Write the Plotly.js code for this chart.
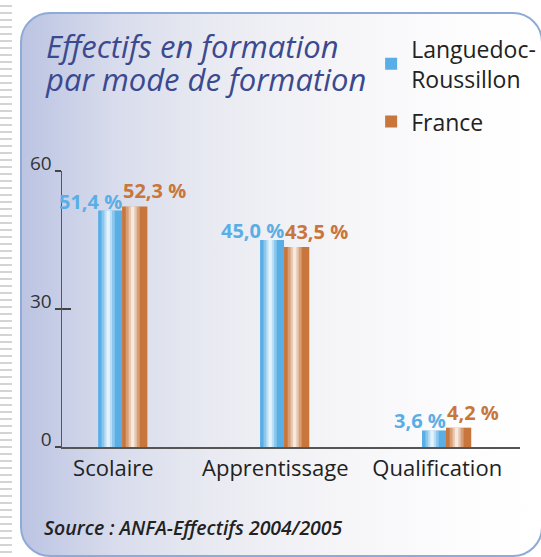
<!DOCTYPE html>
<html>
<head>
<meta charset="utf-8">
<script src="https://cdn.plot.ly/plotly-3.0.1.min.js"></script>
<style>
  html, body { margin:0; padding:0; background:#ffffff; width:541px; height:557px; overflow:hidden; }
  #paper { position:absolute; left:0; top:0; width:12px; height:557px;
    background: repeating-linear-gradient(to bottom, #ffffff 0px, #ffffff 5px, #d4d4d4 5px, #d4d4d4 7px); }
  #panel { position:absolute; left:20px; top:12px; width:523px; height:545px; box-sizing:border-box;
    border:2px solid #8eaad8; border-radius:30px;
    background: linear-gradient(to right, #bcc4e2 0%, #d8dcec 18%, #eaebf2 38%, #f5f5f8 60%, #fdfdfe 85%, #ffffff 100%); }
  #chart { position:absolute; left:0; top:0; width:541px; height:557px; }
</style>
</head>
<body>
<div id="paper"></div>
<div id="panel"></div>
<div id="chart"></div>
<script>
// ---- data ----
const categories = ['Scolaire', 'Apprentissage', 'Qualification'];
const seriesNames = ['Languedoc-<br>Roussillon', 'France'];
const languedocValues = [51.4, 45.0, 3.6];
const franceValues = [52.3, 43.5, 4.2];
const yTickValues = [0, 30, 60];
const titleLine1 = 'Effectifs en formation';
const titleLine2 = 'par mode de formation';
const sourceText = 'Source : ANFA-Effectifs 2004/2005';

// ---- styles ----
const BLUE = '#5aaee6', ORANGE = '#c8763c', TITLE = '#3b4a8f';
const FONT = 'Open Sans, Noto Sans, sans-serif';
const shift = 0.054;
const W_BLUE = 0.148, W_OR = 0.156;
const OFF_BLUE = shift - W_BLUE, OFF_OR = shift;

function fmt(v){ return v.toFixed(1).replace('.', ',') + ' %'; }

function highlightTraces(vals, off, w, yaxis){
  const layers = [[0.55, 0.30], [0.32, 0.42], [0.14, 0.6]];
  return layers.map(([f, a]) => ({
    type:'bar', x:categories, y:vals, yaxis:yaxis,
    width: w*f, offset: off + 0.42*w - w*f/2,
    marker:{ color:'rgba(255,255,255,'+a+')', line:{width:0} },
    showlegend:false, hoverinfo:'skip'
  }));
}

const traces = [
  { type:'bar', name:seriesNames[0], legendgroup:'a', x:categories, y:languedocValues,
    width:W_BLUE, offset:OFF_BLUE, marker:{color:BLUE, line:{width:0}} },
  { type:'bar', name:seriesNames[1], legendgroup:'b', x:categories, y:franceValues,
    width:W_OR, offset:OFF_OR, marker:{color:ORANGE, line:{width:0}} },
  ...highlightTraces(languedocValues, OFF_BLUE, W_BLUE, 'y2'),
  ...highlightTraces(franceValues, OFF_OR, W_OR, 'y2')
];

const annotations = [];
categories.forEach((c, i) => {
  annotations.push({ x:c, y:languedocValues[i], xref:'x', yref:'y', text:fmt(languedocValues[i]),
    showarrow:false, xanchor:'right', yanchor:'bottom', xshift:11, yshift:-6,
    font:{family:FONT, size:20, color:BLUE, weight:700} });
  annotations.push({ x:c, y:franceValues[i], xref:'x', yref:'y', text:fmt(franceValues[i]),
    showarrow:false, xanchor:'left', yanchor:'bottom', xshift:8, yshift:0,
    font:{family:FONT, size:20, color:ORANGE, weight:700} });
});
annotations.push({ x:-0.035, y:1.3334, xref:'paper', yref:'paper', text:titleLine2, showarrow:false,
  xanchor:'left', yanchor:'middle', xshift:-3,
  font:{family:FONT, size:31, color:TITLE, style:'italic'} });
annotations.push({ x:-0.037, y:-0.29, xref:'paper', yref:'paper', text:sourceText, showarrow:false,
  xanchor:'left', yanchor:'middle', xshift:-3,
  font:{family:FONT, size:19.5, color:'#222', style:'italic', weight:600} });

const layout = {
  width:541, height:557,
  margin:{l:62, r:21, t:171, b:110, autoexpand:false},
  paper_bgcolor:'rgba(0,0,0,0)', plot_bgcolor:'rgba(0,0,0,0)',
  barmode:'overlay',
  showlegend:true,
  title:{ text:titleLine1, xref:'container', yref:'container', x:0.085, y:0.934, xanchor:'left', yanchor:'top',
    font:{family:FONT, size:31, color:TITLE, style:'italic'} },
  legend:{ xref:'container', yref:'container', x:0.686, y:0.951, xanchor:'left', yanchor:'top',
    bgcolor:'rgba(0,0,0,0)', font:{family:FONT, size:23, color:'#222'},
    traceorder:'grouped', tracegroupgap:10 },
  xaxis:{ type:'category', range:[-0.317, 2.511], showline:true, linecolor:'#555', linewidth:1.5,
    ticks:'', tickangle:0, showgrid:false, zeroline:false, tickfont:{family:FONT, size:22, color:'#222'}, ticklabelstandoff:1 },
  yaxis:{ range:[0, 60], tickvals:yTickValues, ticks:'outside', ticklen:6, tickwidth:1.5, tickcolor:'#444',
    showline:true, linecolor:'#555', linewidth:1.5, showgrid:false, zeroline:false,
    tickfont:{family:FONT, size:19, color:'#333'}, ticklabelshift:-8, ticklabelstandoff:-1 },
  yaxis2:{ overlaying:'y', side:'left', range:[0, 60], tickvals:yTickValues.slice(1), ticks:'inside', ticklen:9,
    tickwidth:1.5, tickcolor:'#444', showticklabels:false, showline:false, showgrid:false, zeroline:false },
  annotations:annotations
};

Plotly.newPlot('chart', traces, layout, {displayModeBar:false, staticPlot:true});
</script>
</body>
</html>
